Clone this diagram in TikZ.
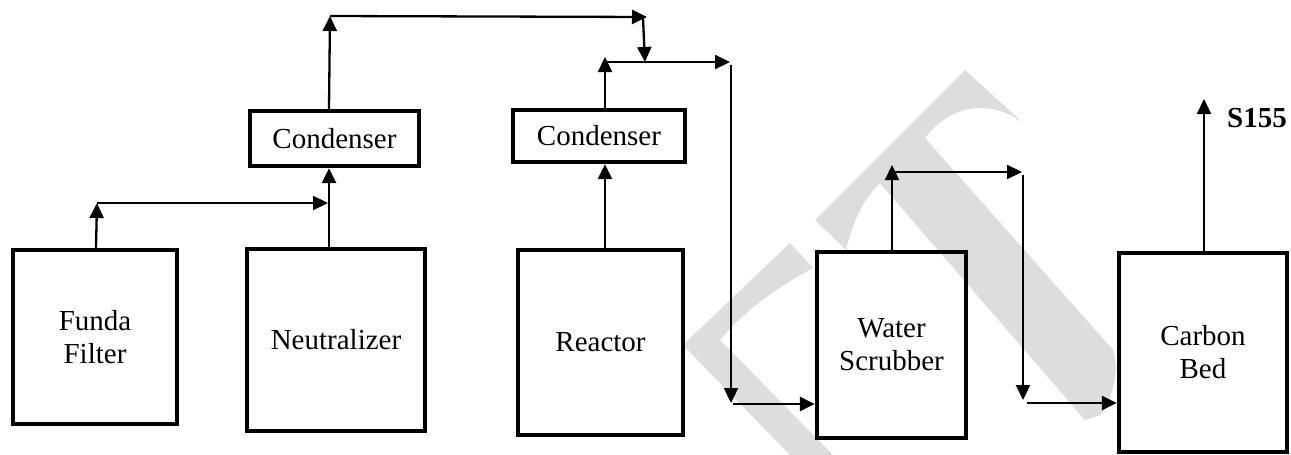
\documentclass[tikz,border=0pt]{standalone}
\usepackage{fontspec}
\setmainfont{Liberation Serif}
\usetikzlibrary{arrows.meta,calc}
\definecolor{wm}{RGB}{221,221,221}
\begin{document}
\begin{tikzpicture}[x=1pt,y=-1pt,
  unit/.style={draw, line width=4.3pt, inner sep=0pt, align=center,
    font=\fontsize{29}{33}\selectfont},
  flow/.style={line width=2.3pt, -{Triangle[length=15pt,width=14pt]}},
  wmark/.style={fill=wm, draw=none}]
\useasboundingbox (0,0) rectangle (1291,455);
% watermark
\fill[wmark] (815,220) -- (965,70) -- (1023,123)
  .. controls (990,98) and (950,105) .. (925,138)
  -- (1113,350) .. controls (1120,372) and (1112,400) .. (1100,415)
  -- (1085,420) -- (880,183)
  .. controls (862,200) and (852,225) .. (846,250) -- cycle;
\fill[wmark] (790,243) -- (683,345) -- (790,455) -- (833,455) -- (720,340)
  .. controls (738,318) and (768,292) .. (813,268) -- cycle;
% units
\node[unit, minimum width=164pt, minimum height=174pt] (funda) at (95,337) {Funda\\Filter};
\node[unit, minimum width=178pt, minimum height=182pt] (neut) at (336,340) {Neutralizer};
\node[unit, minimum width=169pt, minimum height=55pt] (cond1) at (334.5,138.5) {Condenser};
\node[unit, minimum width=172pt, minimum height=52pt] (cond2) at (599,136) {Condenser};
\node[unit, minimum width=165pt, minimum height=185pt] (reactor) at (600.5,342.5) {Reactor};
\node[unit, minimum width=149pt, minimum height=186pt] (scrub) at (891.5,345) {Water\\Scrubber};
\node[unit, minimum width=168pt, minimum height=199pt] (carbon) at (1203,352.5) {Carbon\\Bed};
\node[anchor=west, inner sep=0pt, font=\fontsize{29}{33}\selectfont\bfseries] (s155) at (1227,118) {S155};
% junction coordinates
\coordinate (fa) at (97,203);
\coordinate (na) at (329,203);
\coordinate (c1t) at (330,16);
\coordinate (t1) at (647,17);
\coordinate (t1s) at (643,18);
\coordinate (m1) at (645,62);
\coordinate (c2t) at (605,57);
\coordinate (h2s) at (605,62);
\coordinate (h2e) at (730,62);
\coordinate (v2s) at (731,65);
\coordinate (v2e) at (731,403);
\coordinate (h3s) at (733,404);
\coordinate (s1) at (892,165);
\coordinate (h4s) at (895,172);
\coordinate (h4e) at (1022,172);
\coordinate (v4s) at (1023,175);
\coordinate (v4e) at (1023,400);
\coordinate (h5s) at (1027,403);
\coordinate (out) at (1204,99);
% connectors
\draw[flow] (funda.north -| 96,0) -- (fa);
\draw[flow] (fa) -- ($(na)+(-1,0)$);
\draw[flow] (neut.north -| na) -- (cond1.south -| na);
\draw[flow] (cond1.north -| na) -- (c1t);
\draw[flow] (c1t) -- (t1);
\draw[flow] (t1s) -- (m1);
\draw[flow] (reactor.north -| c2t) -- (cond2.south -| c2t);
\draw[flow] (cond2.north -| c2t) -- (c2t);
\draw[flow] (h2s) -- (h2e);
\draw[flow] (v2s) -- (v2e);
\draw[flow] (h3s) -- (scrub.west |- h3s);
\draw[flow] (scrub.north -| s1) -- (s1);
\draw[flow] (h4s) -- (h4e);
\draw[flow] (v4s) -- (v4e);
\draw[flow] (h5s) -- (carbon.west |- h5s);
\draw[flow] (carbon.north -| out) -- (out);
\end{tikzpicture}
\end{document}
